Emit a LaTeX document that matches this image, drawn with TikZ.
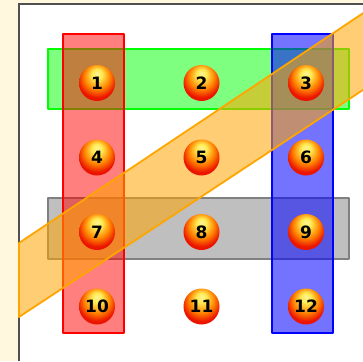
\documentclass[tikz,border=0pt]{standalone}
\usepackage{fontspec}
\usepackage{tikz}
\usetikzlibrary{positioning}
\newfontfamily\numfont{DejaVu Sans}
\definecolor{cream}{RGB}{255,248,222}
\definecolor{frame}{RGB}{80,80,80}
\definecolor{bandorange}{RGB}{255,165,0}
\definecolor{ballorange}{RGB}{255,130,0}
\definecolor{ballyellow}{RGB}{255,235,80}
\definecolor{ballred}{RGB}{235,20,0}
\pgfdeclareradialshading{numball}{\pgfqpoint{0bp}{14bp}}{color(0bp)=(ballyellow!60!white); color(7bp)=(ballyellow); color(18bp)=(ballorange); color(27bp)=(ballred); color(50bp)=(ballred)}

\begin{document}
\begin{tikzpicture}[x=1pt, y=-1pt, on grid, node distance=74.5pt and 104.5pt,
  ball/.style={circle, minimum size=36pt, inner sep=0pt, shading=numball, font=\numfont\bfseries\fontsize{17}{17}\selectfont},
  box/.style={line width=1.6pt, line join=round, fill opacity=.5}]
\useasboundingbox (0,0) rectangle (363,361);
\fill[cream] (0,0) rectangle (363,361);
\fill[white] (19,4) rectangle (363,361);
\draw[frame, line width=1.6pt] (19,361) -- (19,4) -- (363,4);
\clip (0,0) rectangle (363,361);
% rows
\draw[box, green, fill=green] (48,49) rectangle (349,109);
\draw[box, gray, fill=gray] (48,198) rectangle (349,259);
% columns
\draw[box, red, fill=red] (63,34) rectangle (124,333);
\draw[box, blue, fill=blue, fill opacity=.55] (272,34) rectangle (333,333);
% diagonal
\draw[box, bandorange, fill=bandorange, fill opacity=.55, line width=1.8pt] (19,243) -- (400,-11.5) -- (400,65.5) -- (19,317) -- cycle;
% balls
\node[ball] (b1) at (97,83) {1};
\node[ball,right=of b1] (b2) {2};
\node[ball,right=of b2] (b3) {3};
\node[ball,below=of b1] (b4) {4};
\node[ball,right=of b4] (b5) {5};
\node[ball,right=of b5] (b6) {6};
\node[ball,below=of b4] (b7) {7};
\node[ball,right=of b7] (b8) {8};
\node[ball,right=of b8] (b9) {9};
\node[ball,below=of b7] (b10) {10};
\node[ball,right=of b10] (b11) {11};
\node[ball,right=of b11] (b12) {12};
\end{tikzpicture}
\end{document}
